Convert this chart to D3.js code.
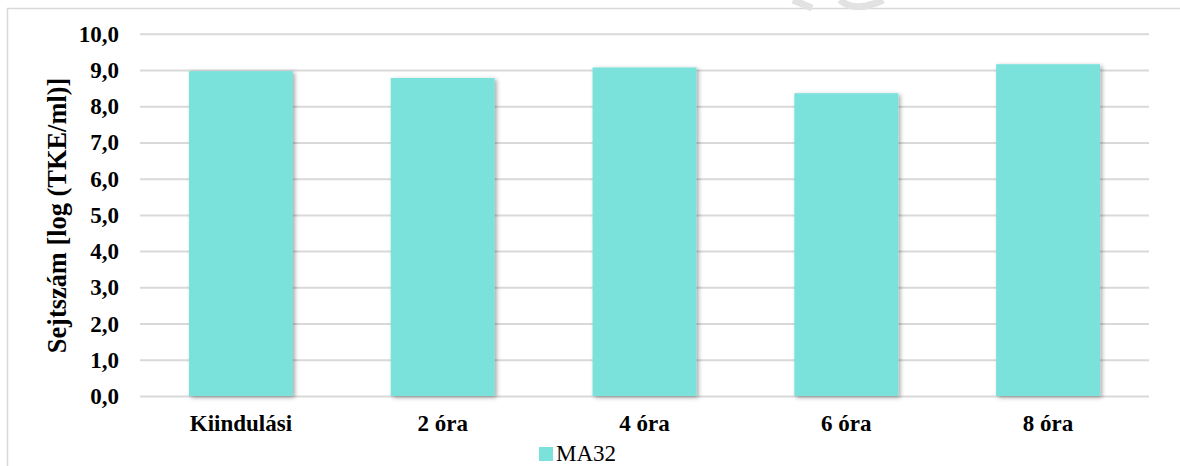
<!DOCTYPE html>
<html>
<head>
<meta charset="utf-8">
<script src="https://cdn.jsdelivr.net/npm/d3@7/dist/d3.min.js"></script>
</head>
<body style="margin:0;padding:0;background:#fff">
<svg id="chart" width="1180" height="466" style="display:block"></svg>
<script>
const categories = ["Kiindulási", "2 óra", "4 óra", "6 óra", "8 óra"];
const seriesName = "MA32";
const values = [8.97, 8.78, 9.07, 8.36, 9.16];
const yTicks = [0, 1, 2, 3, 4, 5, 6, 7, 8, 9, 10];
const yTitle = "Sejtszám [log (TKE/ml)]";

const FONT = '"Liberation Serif"';
const svg = d3.select("#chart");
const plot = { left: 140, right: 1149, top: 33.8, bottom: 396 };
const barColor = "#7AE2DA";
const gridColor = "#D9D9D9";

const defs = svg.append("defs");
const f = defs.append("filter").attr("id", "shadow")
  .attr("x", "-10%").attr("y", "-10%").attr("width", "125%").attr("height", "125%");
f.append("feDropShadow").attr("dx", 2).attr("dy", 1.5).attr("stdDeviation", 2)
  .attr("flood-color", "#000").attr("flood-opacity", 0.35);

// outer chart border
svg.append("rect").attr("x", 7.5).attr("y", 8.5).attr("width", 1200).attr("height", 500)
  .attr("fill", "#fff").attr("stroke", gridColor).attr("stroke-width", 1.5);

// faint watermark fragment at top
svg.append("path")
  .attr("d", "M793,0 L812,8 M840,0 Q850,9 866,6 Q878,3 883,0")
  .attr("fill", "none").attr("stroke", "#E2E2E2").attr("stroke-width", 7);

const x = d3.scaleBand().domain(categories).range([plot.left, plot.right])
  .paddingInner(0.485).paddingOuter(0.2425);
const y = d3.scaleLinear().domain([0, 10]).range([plot.bottom, plot.top]);

// gridlines + y tick labels via axis
const yAxis = d3.axisLeft(y).tickValues(yTicks)
  .tickSize(-(plot.right - plot.left)).tickPadding(21)
  .tickFormat(d => d3.format(".1f")(d).replace(".", ","));
const gy = svg.append("g").attr("transform", `translate(${plot.left},0)`).call(yAxis);
gy.select(".domain").remove();
gy.selectAll(".tick line").attr("stroke", gridColor).attr("stroke-width", 2);
gy.selectAll(".tick text")
  .style("font-family", FONT).style("font-weight", "bold").style("font-size", "23px")
  .attr("fill", "#000").attr("dy", null).attr("y", 7.5);

// bars
svg.append("g").selectAll("rect").data(values).join("rect")
  .attr("x", (d, i) => x(categories[i]))
  .attr("y", d => y(d))
  .attr("width", x.bandwidth())
  .attr("height", d => y(0) - y(d))
  .attr("fill", barColor)
  .attr("filter", "url(#shadow)");

// x axis labels
const xAxis = d3.axisBottom(x).tickSize(0).tickPadding(0);
const gx = svg.append("g").attr("transform", `translate(0,${plot.bottom})`).call(xAxis);
gx.select(".domain").remove();
gx.selectAll(".tick text")
  .style("font-family", FONT).style("font-weight", "bold").style("font-size", "23px")
  .attr("fill", "#000").attr("dy", null).attr("y", 35);

// y title
svg.append("text")
  .attr("transform", "translate(66,215.5) rotate(-90)")
  .attr("text-anchor", "middle")
  .style("font-family", FONT).style("font-weight", "bold").style("font-size", "26.4px")
  .attr("fill", "#000")
  .text(yTitle);

// legend
const leg = svg.append("g");
leg.append("rect").attr("x", 539).attr("y", 447).attr("width", 14).attr("height", 14).attr("fill", barColor);
leg.append("text").attr("x", 556).attr("y", 461)
  .style("font-family", FONT).style("font-size", "23px").attr("fill", "#000")
  .text(seriesName);
</script>
</body>
</html>
